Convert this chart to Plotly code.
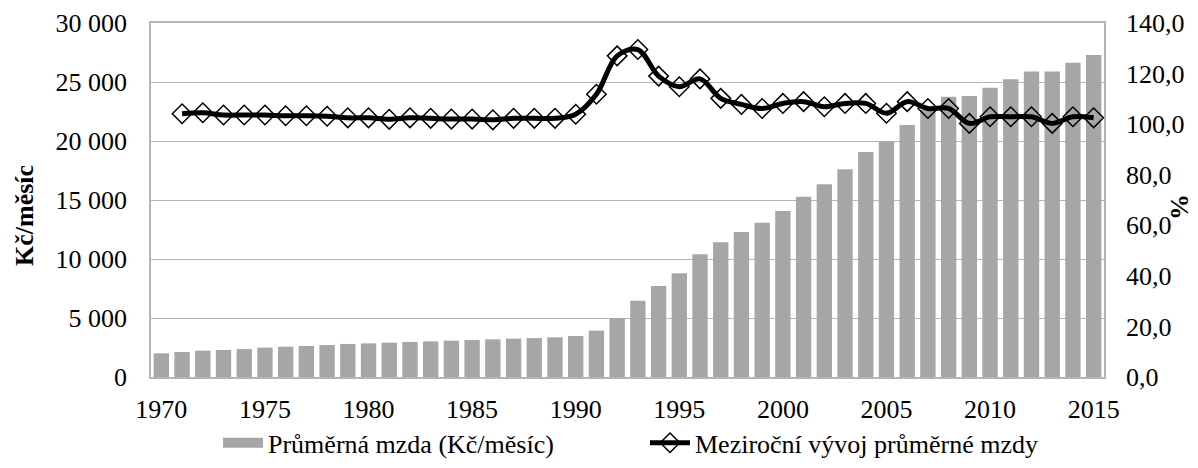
import plotly.graph_objects as go

years = list(range(1970, 2016))
wage = [2010, 2120, 2230, 2290, 2370, 2490, 2570, 2630, 2710, 2800, 2850, 2910, 2970, 3020, 3080, 3140,
        3190, 3250, 3300, 3360, 3470, 3930, 4970, 6470, 7710, 8790, 10400, 11410, 12290, 13080, 14070,
        15280, 16330, 17600, 19070, 19940, 21360, 22650, 23760, 23820, 24520, 25230, 25880, 25880, 26640, 27290]
growth_years = list(range(1971, 2016))
growth = [104.1, 104.5, 103.6, 103.6, 103.6, 103.3, 103.3, 103.1, 102.5, 102.5, 101.9, 102.5, 102.3, 102.0,
          102.0, 101.7, 102.3, 102.3, 102.3, 103.9, 111.8, 127.0, 129.5, 119.0, 114.8, 117.9, 110.2, 107.8,
          106.2, 108.2, 108.9, 106.9, 108.2, 108.2, 104.3, 108.9, 106.2, 106.2, 100.3, 102.9, 102.9, 102.9,
          100.3, 102.9, 102.5]
left_ticks = [0, 5000, 10000, 15000, 20000, 25000, 30000]
left_ticktext = ["0", "5 000", "10 000", "15 000", "20 000", "25 000", "30 000"]
right_ticks = [0, 20, 40, 60, 80, 100, 120, 140]
right_ticktext = ["0,0", "20,0", "40,0", "60,0", "80,0", "100,0", "120,0", "140,0"]
x_ticks = [1970, 1975, 1980, 1985, 1990, 1995, 2000, 2005, 2010, 2015]
name_bar = "Průměrná mzda (Kč/měsíc)"
name_line = "Meziroční vývoj průměrné mzdy"
left_title = "Kč/měsíc"
right_title = "%"

FONT = "Liberation Serif, Times New Roman, serif"
FS = 26
GRID = "#B4B4B4"
BAR = "#A6A6A6"

fig = go.Figure()
fig.add_trace(go.Bar(x=years, y=wage, name=name_bar, marker=dict(color=BAR, line=dict(width=0)),
                     yaxis="y", showlegend=False))
# legend entry for the bars (wide grey box like the original)
fig.add_trace(go.Scatter(x=[None], y=[None], name=name_bar, mode="lines",
                         line=dict(color=BAR, width=17), showlegend=True))
fig.add_trace(go.Scatter(x=growth_years, y=growth, name=name_line, yaxis="y2", mode="lines+markers",
                         line=dict(color="black", width=5, shape="spline", smoothing=1),
                         marker=dict(symbol="diamond-open", size=15, color="black",
                                     line=dict(color="black", width=1.5))))

fig.update_layout(
    width=1198, height=468,
    margin=dict(l=151, r=94, t=23, b=91, autoexpand=False),
    paper_bgcolor="white", plot_bgcolor="white",
    font=dict(family=FONT, size=FS, color="black"),
    bargap=0.26,
    showlegend=True,
    legend=dict(orientation="h", x=0.0703, xanchor="left", y=-0.186, yanchor="middle",
                font=dict(size=FS), traceorder="normal", itemwidth=40, entrywidth=372,
                bgcolor="rgba(0,0,0,0)"),
    xaxis=dict(range=[1969.5, 2015.5], tickvals=x_ticks, showgrid=False, ticks="",
               showline=True, linecolor=GRID, linewidth=1.5, mirror=True, ticklabelstandoff=8,
               automargin=False, zeroline=False),
    yaxis=dict(range=[0, 30000], tickvals=left_ticks, ticktext=left_ticktext, showgrid=True,
               gridcolor=GRID, gridwidth=1.2, ticks="", showline=True, linecolor=GRID, linewidth=1.5,
               zeroline=False, ticklabelstandoff=17, automargin=False),
    yaxis2=dict(range=[0, 140], tickvals=right_ticks, ticktext=right_ticktext, overlaying="y",
                side="right", showgrid=False, ticks="", showline=True, linecolor=GRID, linewidth=1.5,
                zeroline=False, ticklabelstandoff=15, automargin=False),
    annotations=[
        dict(text="<b>" + left_title + "</b>", xref="paper", yref="paper", x=-0.1333, y=0.4576,
             xanchor="center", yanchor="middle", textangle=-90, showarrow=False,
             font=dict(size=FS)),
        dict(text="<b>" + right_title + "</b>", xref="paper", yref="paper", x=1.0787, y=0.48,
             xanchor="center", yanchor="middle", textangle=-90, showarrow=False,
             font=dict(size=FS)),
    ],
)

fig.write_html("out.html", config={"displayModeBar": False},
               post_script="document.body.style.margin='0';")
